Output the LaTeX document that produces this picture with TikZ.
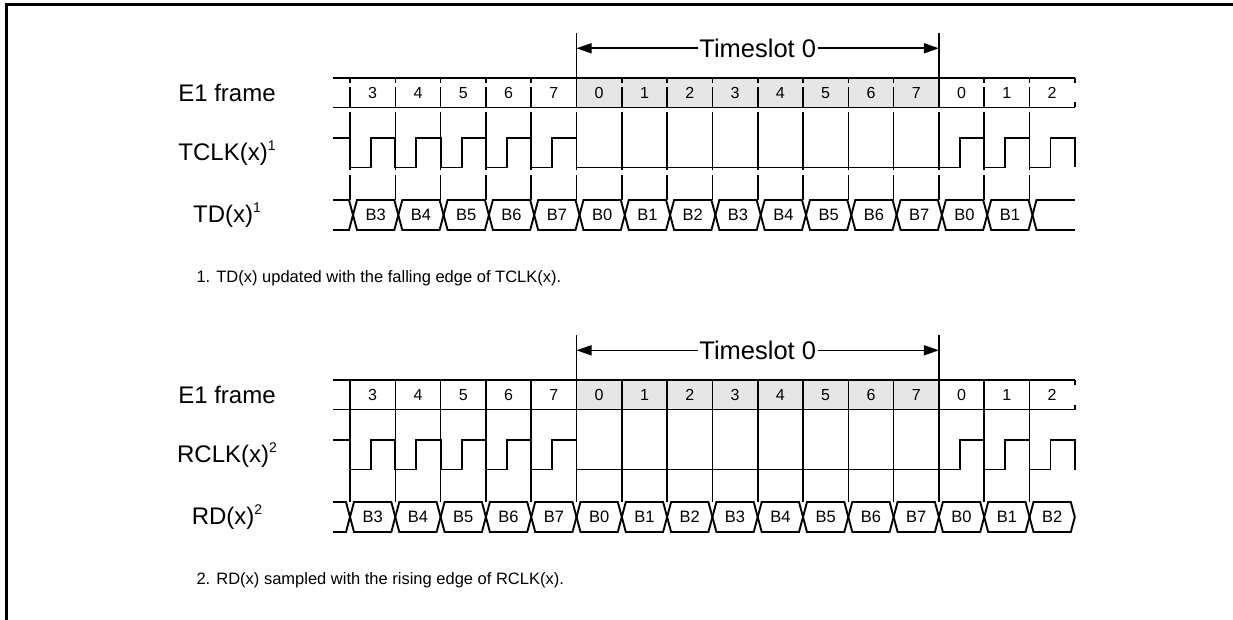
\documentclass[tikz,border=0pt]{standalone}
\usepackage{fontspec}
\setmainfont{Liberation Sans}
\usepackage{tikz}
\usetikzlibrary{arrows.meta}
\definecolor{slotgray}{RGB}{230,230,230}
\newcommand{\fsz}[1]{\fontsize{#1}{#1}\selectfont}
\newcommand{\supnum}[1]{\raisebox{0.42em}{\fsz{14}#1}}

% one E1 timing panel: #1 clock prefix, #2 note number, #3 note text,
% #4 data crossing shift, #5 data labels, #6 separator style
\newcommand{\timingpanel}[6]{%
  \fill[slotgray] (576.5,78) rectangle (938.9,107.5);
  \draw[wave] (333,78) -- (1074.8,78) (333,107.5) -- (1074.8,107.5);
  \foreach \s [count=\k from 0] in {3,4,5,6,7,0,1,2,3,4,5,6,7,0,1,2}
    \node[slotnum] (#1slot\k) at ({372.65+45.3*\k},92.75) {\s};
  \foreach \k in {0,...,15}
    \draw[#6] ({350+45.3*\k},78) -- ({350+45.3*\k},200);
  \draw[sepline, dash pattern=on 5pt off 19.5pt on 6pt] (1074.8,78) -- (1074.8,107.5);
  % timeslot 0 markers
  \draw[wave] (576.5,33) -- (576.5,107.5) (938.9,33) -- (938.9,107.5);
  \coordinate (#1tsl) at (576.5,48.3);
  \coordinate (#1tsr) at (938.9,48.3);
  \node[tstext] (#1ts) at (757.7,48.3) {Timeslot 0};
  \draw[tsarrow] (#1ts) -- (#1tsl);
  \draw[tsarrow] (#1ts) -- (#1tsr);
  % clock
  \draw[wave] (333,138) -- (350,138)
    \foreach \k in {0,...,4}{ -- ({350+45.3*\k},167.5) -- ({371+45.3*\k},167.5)
      -- ({371+45.3*\k},138) -- ({395.3+45.3*\k},138) }
    -- (576.5,167.5)
    \foreach \k in {13,14,15}{ -- ({371+45.3*\k},167.5) -- ({371+45.3*\k},138)
      -- ({395.3+45.3*\k},138) -- ({395.3+45.3*\k},167.5) };
  % data
  \draw[wave] (333,200) -- ({346+#4},200) -- ({350+#4},215) -- ({346+#4},230) -- (333,230);
  \foreach \b [count=\k from 0] in {#5}{
    \pgfmathsetmacro\xa{350+45.3*\k+#4}
    \draw[wave] (\xa,215) -- (\xa+4,200) -- (\xa+41.3,200) -- (\xa+45.3,215)
      -- (\xa+41.3,230) -- (\xa+4,230) -- cycle;
    \node[datlab] (#1dat\k) at (\xa+22.65,215) {\b};
  }
  % labels
  \node[signame] (#1frame) at (227,93) {E1 frame};
  \node[signame] (#1clk) at (227,153) {#1CLK(x)\supnum{#2}};
  \node[signame] (#1data) at (227,215) {#1D(x)\supnum{#2}};
  \node[note, anchor=west] (#1note) at (193,278.3) {#2. #3};
}

\begin{document}
\begin{tikzpicture}[x=1pt, y=-1pt,
  wave/.style={line width=1.9pt},
  sepline/.style={line width=1.6pt},
  sepdash/.style={line width=1.6pt, dash pattern=on 5pt off 4pt on 20.5pt off 4.5pt on 58pt off 5pt on 40pt},
  tsarrow/.style={-{Triangle[length=15pt,width=10pt]}, line width=1.6pt},
  tstext/.style={font=\fsz{25.5}, inner sep=1.5pt},
  slotnum/.style={font=\fsz{16}},
  datlab/.style={font=\fsz{16.5}},
  signame/.style={font=\fsz{24}},
  note/.style={font=\fsz{16.5}}]
\useasboundingbox (0,0) rectangle (1233,620);
\draw[line width=2.8pt] (6.5,620) -- (6.5,4.7) -- (1233,4.7);

\timingpanel{T}{1}{TD(x) updated with the falling edge of TCLK(x).}{3}%
  {B3,B4,B5,B6,B7,B0,B1,B2,B3,B4,B5,B6,B7,B0,B1}{sepdash}
\draw[wave] (1074.8,200) -- (1036.5,200) -- (1032.5,215) -- (1036.5,230) -- (1074.8,230);

\begin{scope}[yshift=-302pt]
\timingpanel{R}{2}{RD(x) sampled with the rising edge of RCLK(x).}{0}%
  {B3,B4,B5,B6,B7,B0,B1,B2,B3,B4,B5,B6,B7,B0,B1,B2}{sepline}
\end{scope}
\end{tikzpicture}
\end{document}
